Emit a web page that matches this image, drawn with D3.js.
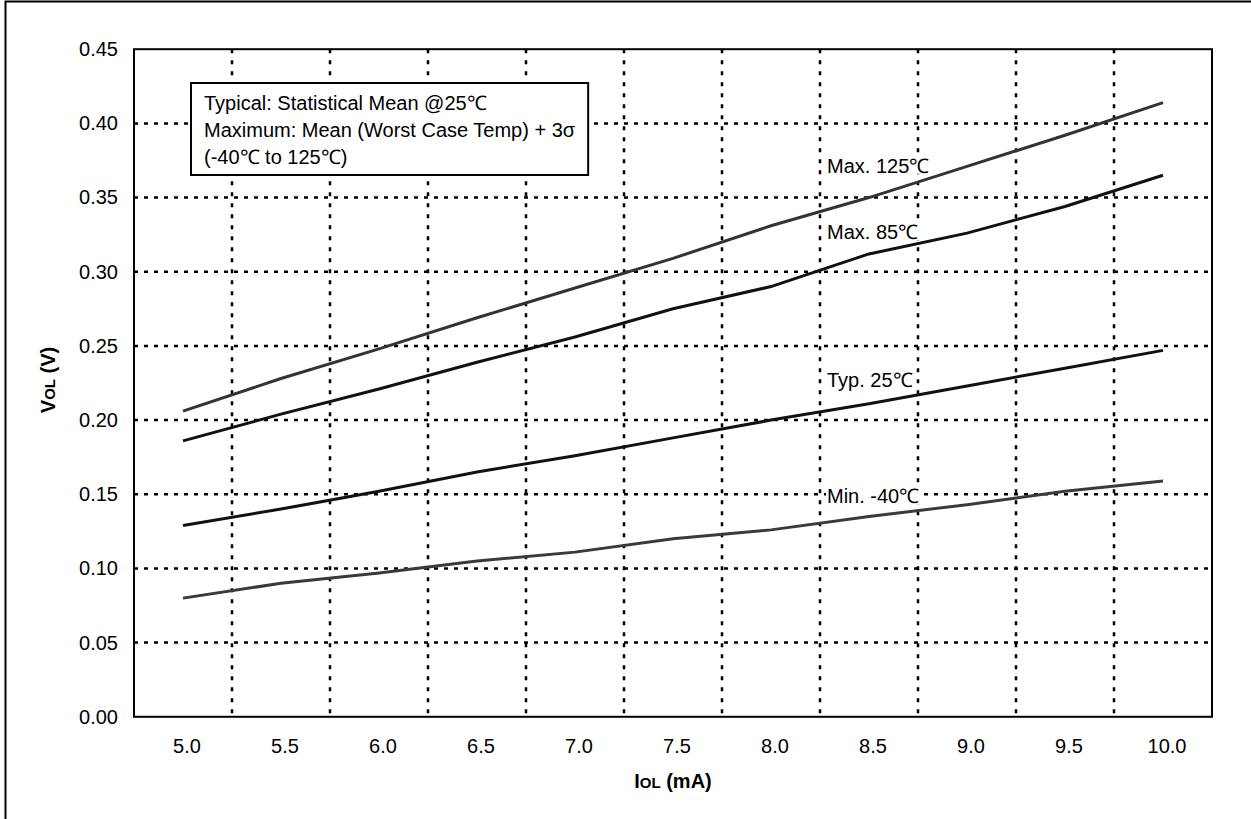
<!DOCTYPE html>
<html><head><meta charset="utf-8">
<script src="https://cdn.jsdelivr.net/npm/d3@7"></script>
<style>body{margin:0;background:#fff}svg{display:block}text{font-family:Arial,"Liberation Sans",sans-serif}</style>
</head><body><svg id="c" width="1251" height="819"></svg>
<script>
const categories = ["5.0","5.5","6.0","6.5","7.0","7.5","8.0","8.5","9.0","9.5","10.0"];
const max125 = [0.206,0.228,0.248,0.269,0.289,0.309,0.331,0.350,0.371,0.392,0.414];
const max85  = [0.186,0.204,0.221,0.239,0.256,0.275,0.290,0.312,0.326,0.344,0.365];
const typ25  = [0.129,0.140,0.152,0.165,0.176,0.188,0.200,0.211,0.223,0.235,0.247];
const min40  = [0.080,0.090,0.097,0.105,0.111,0.120,0.126,0.135,0.143,0.152,0.159];
const yTicks = [0,0.05,0.10,0.15,0.20,0.25,0.30,0.35,0.40,0.45];
const seriesNames = ["Max. 125\u2103","Max. 85\u2103","Typ. 25\u2103","Min. -40\u2103"];
const legendLines = ["Typical: Statistical Mean @25\u2103","Maximum: Mean (Worst Case Temp) + 3\u03c3","(-40\u2103 to 125\u2103)"];

const svg = d3.select("#c");
const L=134, R=1212, T=49.2, B=716.8;
const x = d3.scaleBand().domain(categories).range([L,R]).padding(0);
const y = d3.scaleLinear().domain([0,0.45]).range([B,T]);

// outer frame
svg.append("rect").attr("x",5.5).attr("y",1.5).attr("width",1270).attr("height",840)
  .attr("fill","none").attr("stroke","#000").attr("stroke-width",2);

// gridlines
const g = svg.append("g");
g.selectAll("line.h").data(yTicks.filter(v=>v>0&&v<0.45)).join("line")
  .attr("x1",L).attr("x2",R).attr("y1",d=>y(d)).attr("y2",d=>y(d))
  .attr("stroke","#000").attr("stroke-width",2.5).attr("stroke-dasharray","4 6");
g.selectAll("line.v").data(categories.slice(1)).join("line")
  .attr("x1",d=>x(d)).attr("x2",d=>x(d)).attr("y1",T).attr("y2",B)
  .attr("stroke","#000").attr("stroke-width",2.5).attr("stroke-dasharray","4 7");

// y tick labels
const yAxis = d3.axisLeft(y).tickValues(yTicks).tickFormat(d3.format(".2f")).tickSize(0).tickPadding(16);
const ya = svg.append("g").attr("transform",`translate(${L},0)`).call(yAxis);
ya.select(".domain").remove();
ya.selectAll("text").attr("font-size",20).attr("font-family","Arial, 'Liberation Sans', sans-serif").attr("fill","#000");

// x tick labels
const xAxis = d3.axisBottom(x).tickSize(0).tickPadding(22);
const xa = svg.append("g").attr("transform",`translate(4,${B})`).call(xAxis);
xa.select(".domain").remove();
xa.selectAll("text").attr("font-size",20).attr("font-family","Arial, 'Liberation Sans', sans-serif").attr("fill","#000");

// lines
const series = [
  {name:seriesNames[0], vals:max125, color:"#333", lx:"8.5", ly:172.7},
  {name:seriesNames[1], vals:max85,  color:"#111", lx:"8.5", ly:239},
  {name:seriesNames[2], vals:typ25,  color:"#111", lx:"8.5", ly:387.3},
  {name:seriesNames[3], vals:min40,  color:"#3a3a3a", lx:"8.5", ly:503.3}
];
const line = d3.line().x((d,i)=>x(categories[i])+x.bandwidth()/2).y(d=>y(d));
svg.selectAll("path.s").data(series).join("path")
  .attr("d",d=>line(d.vals)).attr("fill","none").attr("stroke",d=>d.color).attr("stroke-width",3);

// series labels
series.forEach(s=>{
  const lg = svg.append("g");
  const bg = lg.append("rect").attr("fill","#fff");
  const t = lg.append("text").attr("x",x(s.lx)+7).attr("y",s.ly).attr("font-size",20).attr("fill","#000").text(s.name);
  const bb = t.node().getBBox();
  bg.attr("x",bb.x-1).attr("y",bb.y+3).attr("width",bb.width+3).attr("height",bb.height-6);
});

// legend box
const lgG = svg.append("g");
const box = lgG.append("rect").attr("x",191).attr("y",83).attr("height",92)
  .attr("fill","#fff").attr("stroke","#000").attr("stroke-width",2);
let maxW = 0;
legendLines.forEach((l,i)=>{
  const t = lgG.append("text").attr("x",204).attr("y",109.5+i*27).attr("font-size",20).attr("fill","#000").text(l);
  maxW = Math.max(maxW, t.node().getComputedTextLength());
});
box.attr("width",maxW+26);

// plot frame
svg.append("rect").attr("x",L).attr("y",T).attr("width",R-L).attr("height",B-T)
  .attr("fill","none").attr("stroke","#000").attr("stroke-width",2);

// axis titles
const xt = svg.append("text").attr("x",(L+R)/2).attr("y",788).attr("text-anchor","middle")
  .attr("font-weight","bold").attr("font-size",20);
xt.append("tspan").text("I");
xt.append("tspan").attr("font-size",15).text("OL");
xt.append("tspan").text(" (mA)");
const yt = svg.append("text").attr("transform","translate(55,380) rotate(-90)").attr("text-anchor","middle")
  .attr("font-weight","bold").attr("font-size",20);
yt.append("tspan").text("V");
yt.append("tspan").attr("font-size",15).text("OL");
yt.append("tspan").text(" (V)");
</script></body></html>
